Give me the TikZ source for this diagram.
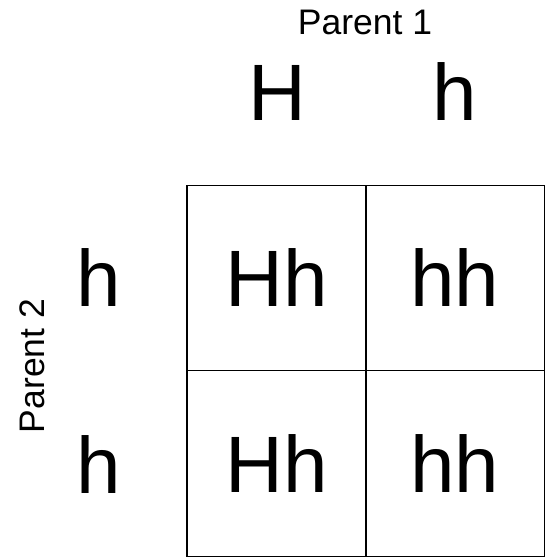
\documentclass[tikz,border=0pt]{standalone}
\usepackage{fontspec}
\setmainfont{Liberation Sans}
\tikzset{
  bigtext/.style={inner sep=0pt, font=\fontsize{80}{90}\selectfont, text height=57pt, text depth=0pt},
  cell/.style={bigtext, draw, line width=1.2pt, minimum width=179pt, minimum height=185.5pt},
  parent/.style={inner sep=0pt, font=\fontsize{35.5}{40}\selectfont, text height=25.5pt, text depth=0pt}
}
\begin{document}
\begin{tikzpicture}[x=1pt,y=-1pt]
  \useasboundingbox (0,0) rectangle (550,557);
  % the square
  \node[cell] (c11) at (276.5,278) {Hh};
  \node[cell] (c12) at (455,278) {hh};
  \node[cell] (c21) at (276.5,463.5) {Hh};
  \node[cell] (c22) at (455,463.5) {hh};
  % parent 1 across the top
  \node[parent] (p1) at (365,21.5) {Parent 1};
  \node[bigtext] (a1) at (277,92) {H};
  \node[bigtext] (a2) at (455,92) {h};
  % parent 2 down the side
  \node[parent, rotate=90] (p2) at (32,366) {Parent 2};
  \node[bigtext] (b1) at (98.5,278) {h};
  \node[bigtext] (b2) at (98.5,465) {h};
\end{tikzpicture}
\end{document}
